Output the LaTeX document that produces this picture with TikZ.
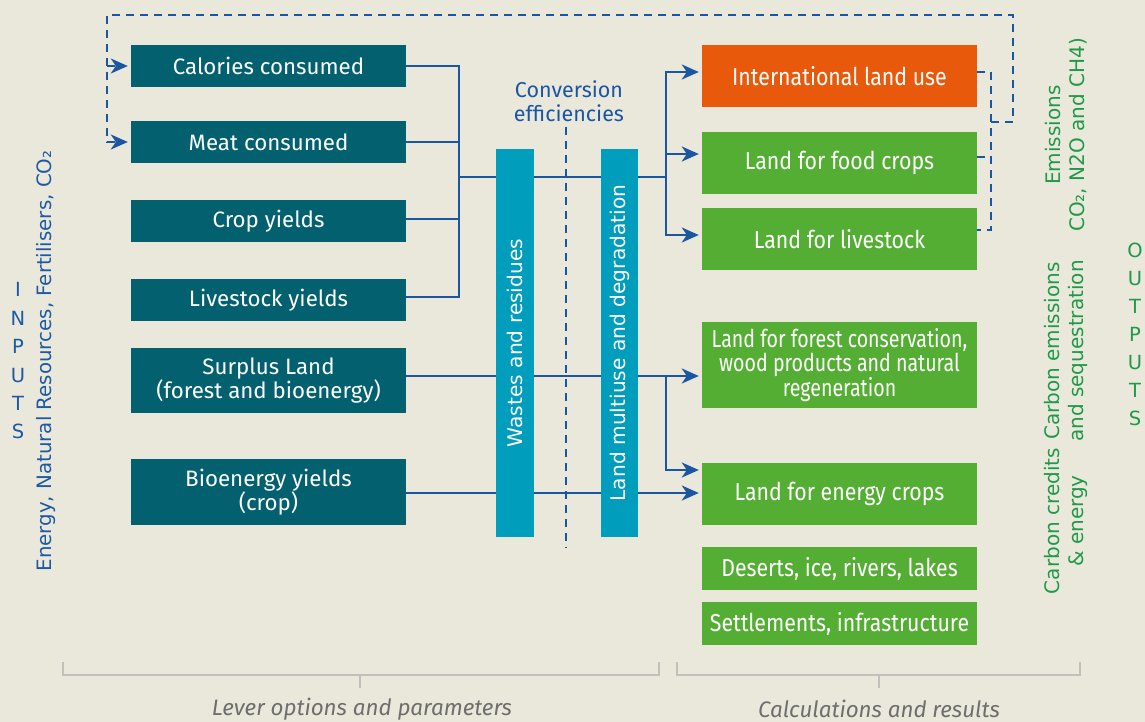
\documentclass[tikz,border=0pt]{standalone}
\usepackage{fontspec}
\setmainfont{Fira Sans}
\newfontfamily\condfont[FakeStretch=0.87]{Fira Sans}
\newfontfamily\condfontb[FakeStretch=0.8]{Fira Sans}
\newfontfamily\sidefont{DejaVu Sans}
\usetikzlibrary{arrows.meta}
\definecolor{bgc}{HTML}{EAE7DB}
\definecolor{tealbox}{HTML}{02606F}
\definecolor{barc}{HTML}{009DBD}
\definecolor{linec}{HTML}{1B56A3}
\definecolor{orangec}{HTML}{E8590C}
\definecolor{greenc}{HTML}{55AE34}
\definecolor{greentxt}{HTML}{1E9A48}
\definecolor{bluetxt}{HTML}{1C5AA5}
\definecolor{brk}{HTML}{C2C0BA}
\definecolor{graytxt}{HTML}{6E6E6E}
\tikzset{
  lever/.style={fill=tealbox, text=white, minimum width=275pt, inner sep=0pt, align=center,
    font=\fontsize{22.3}{24}\selectfont},
  resbox/.style={fill=greenc, text=white, minimum width=275pt, inner sep=0pt, align=center,
    font=\condfont\fontsize{24.5}{24}\selectfont},
  barbox/.style={fill=barc, minimum width=38pt, minimum height=388pt, inner sep=0pt},
  bartext/.style={text=white, rotate=90, font=\sidefont\fontsize{20.2}{22}\selectfont},
  conn/.style={draw=linec, line width=2.2pt},
  arr/.style={conn, -{Stealth[length=17pt,width=15pt,inset=5pt]}, shorten >=3pt},
  dashbl/.style={draw=linec, line width=2pt, dash pattern=on 8pt off 6pt},
  dasharr/.style={dashbl, -{Stealth[length=17pt,width=15pt,inset=5pt]}, shorten >=3pt},
  sidetxt/.style={rotate=90, align=center, font=\sidefont\fontsize{20}{23.5}\selectfont, text=greentxt},
  brack/.style={draw=brk, line width=2.5pt},
  lbl/.style={text=graytxt, font=\itshape\fontsize{22.4}{24}\selectfont}
}
\begin{document}
\begin{tikzpicture}[x=1pt,y=-1pt]
\fill[bgc] (0,0) rectangle (1145,722);
\useasboundingbox (0,0) rectangle (1145,722);

% left boxes
\node[lever, minimum height=42pt] (cal) at (268.5,66) {Calories consumed};
\node[lever, minimum height=42pt] (meat) at (268.5,142) {Meat consumed};
\node[lever, minimum height=42pt] (crop) at (268.5,221) {Crop yields};
\node[lever, minimum height=42pt] (live) at (268.5,300) {Livestock yields};
\node[lever, minimum height=65pt] (surp) at (268.5,380.5) {Surplus Land\\(forest and bioenergy)};
\node[lever, minimum height=66pt] (bioe) at (268.5,492) {Bioenergy yields\\(crop)};

% right boxes
\node[resbox, fill=orangec, minimum height=62pt] (intl) at (839.5,76) {International land use};
\node[resbox, minimum height=62pt] (food) at (839.5,163) {Land for food crops};
\node[resbox, minimum height=62pt] (lstk) at (839.5,239) {Land for livestock};
\node[resbox, minimum height=86pt, font=\condfontb\fontsize{24.5}{24}\selectfont] (forest) at (839.5,365) {Land for forest conservation,\\wood products and natural\\regeneration};
\node[resbox, minimum height=62pt] (energy) at (839.5,494) {Land for energy crops};
\node[resbox, minimum height=43pt] (des) at (839.5,568.5) {Deserts, ice, rivers, lakes};
\node[resbox, minimum height=43pt] (set) at (839.5,623.5) {Settlements, infrastructure};

% conversion label and dashed line
\node[text=linec, align=center, font=\fontsize{21.5}{24}\selectfont] (conv) at (569,101) {Conversion\\efficiencies};
\coordinate (ct) at (566,127);
\coordinate (cb) at (566,548);
\draw[dashbl] (ct) -- (cb);

% solid connectors
\coordinate (j) at (459,177);
\coordinate (b) at (666,177);
\draw[conn] (cal.east) -| (j);
\draw[conn] (meat.east) -| (j);
\draw[conn] ([yshift=2pt]crop.east) -| (j);
\draw[conn] ([yshift=3pt]live.east) -| (j);
\draw[conn] (j) -- (b);
\draw[arr] (b) |- ([yshift=4pt]intl.west);
\draw[arr] (b) |- ([yshift=9pt]food.west);
\draw[arr] (b) |- ([yshift=4pt]lstk.west);
\coordinate (s) at (666,376);
\draw[arr] ([yshift=4.5pt]surp.east) -- ([yshift=-11pt]forest.west);
\draw[arr] (s) |- ([yshift=24pt]energy.west);
\draw[arr] ([yshift=-1pt]bioe.east) -- ([yshift=1pt]energy.west);

% bars
\node[barbox] (waste) at (515,343) {};
\node[bartext] at (waste) {Wastes and residues};
\node[barbox, minimum width=37pt] (multi) at (619.5,343) {};
\node[bartext] at (multi) {Land multiuse and degradation};

% dashed feedback
\coordinate (d1) at (991,72);
\coordinate (d2) at (991,230);
\coordinate (dj) at (991,122);
\coordinate (tr) at (1013,15);
\coordinate (tl) at (107,15);
\coordinate (cl) at (107,66);
\draw[dashbl] ([yshift=4pt]intl.east) -- (d1) -- (d2) -- ([yshift=9pt]lstk.east);
\draw[dashbl] ([yshift=6pt]food.east) -- ++(14,0);
\draw[dasharr] (dj) -| (tr) -- (tl) |- (meat.west);
\draw[dasharr] (cl) -- (cal.west);

% side texts
\node[text=bluetxt, align=center, font=\sidefont\fontsize{19.5}{28.4}\selectfont] (inp) at (18,361) {I\\N\\P\\U\\T\\S};
\node[text=bluetxt, rotate=90, font=\sidefont\fontsize{19.8}{22}\selectfont] (enat) at (46,361) {Energy, Natural Resources, Fertilisers, CO₂};
\node[sidetxt] (emis) at (1066,135) {Emissions\\CO₂, N2O and CH4)};
\node[sidetxt] (cem) at (1066,351) {Carbon emissions\\and sequestration};
\node[sidetxt] (ccr) at (1066,521) {Carbon credits\\\& energy};
\node[text=greentxt, align=center, font=\sidefont\fontsize{19.5}{28}\selectfont] (outp) at (1135,334) {O\\U\\T\\P\\U\\T\\S};

% bottom brackets
\coordinate (l1) at (63,662); \coordinate (l2) at (659,662);
\coordinate (lm) at (360,675); \coordinate (lt) at (360,688);
\draw[brack] (l1) |- (l2 |- lm) -- (l2);
\draw[brack] (lm) -- (lt);
\coordinate (r1) at (677,662); \coordinate (r2) at (1080,662);
\coordinate (rm) at (879,675); \coordinate (rt) at (879,688);
\draw[brack] (r1) |- (r2 |- rm) -- (r2);
\draw[brack] (rm) -- (rt);
\node[lbl] (llab) at (362,709) {Lever options and parameters};
\node[lbl] (rlab) at (879,709) {Calculations and results};
\end{tikzpicture}
\end{document}
